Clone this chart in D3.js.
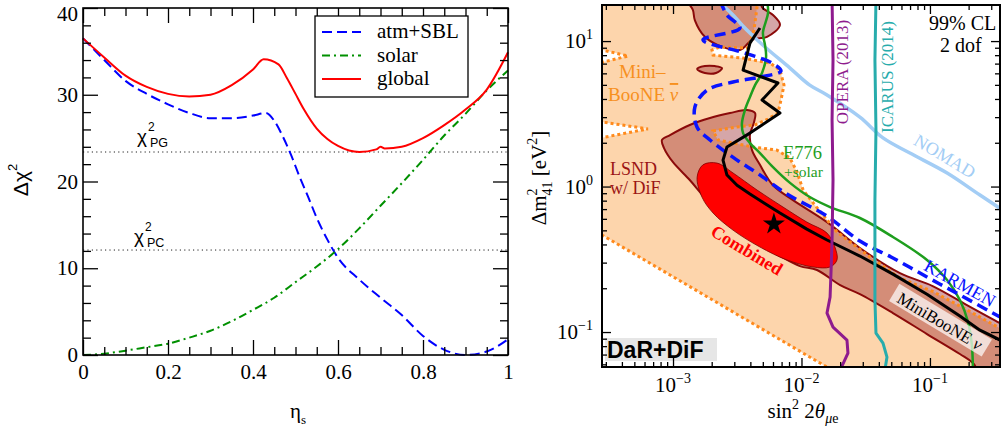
<!DOCTYPE html>
<html>
<head>
<meta charset="utf-8">
<script src="https://cdn.jsdelivr.net/npm/d3@7"></script>
<style>
  body { margin: 0; background: #fff; }
  svg { display: block; }
</style>
</head>
<body>
<script>
// ---------------- left panel: delta chi^2 vs eta_s ----------------
const atmSBL = [[0,36.5],[0.05,34.0],[0.1,31.6],[0.15,30.1],[0.2,28.9],[0.25,27.9],[0.3,27.3],[0.35,27.3],
  [0.4,27.6],[0.43,27.9],[0.45,27.0],[0.47,25.2],[0.49,23.0],[0.51,20.5],[0.53,18.2],[0.55,15.8],[0.575,13.3],
  [0.6,11.2],[0.65,8.7],[0.7,6.6],[0.75,4.6],[0.8,2.2],[0.85,0.6],[0.9,0.0],[0.95,0.4],[1.0,1.8]];
const solar = [[0,0],[0.05,0.15],[0.1,0.5],[0.15,0.9],[0.2,1.3],[0.25,2.0],[0.3,2.8],[0.35,3.9],[0.4,5.2],
  [0.45,6.6],[0.5,8.4],[0.55,10.2],[0.6,12.2],[0.65,14.6],[0.7,17.2],[0.75,19.8],[0.8,22.5],[0.85,25.3],
  [0.9,27.8],[0.95,30.5],[1.0,32.8]];
const globalFit = [[0,36.5],[0.05,34.3],[0.1,32.2],[0.15,30.9],[0.2,30.1],[0.25,29.8],[0.3,30.0],[0.35,31.1],
  [0.4,32.9],[0.425,34.1],[0.46,33.5],[0.48,31.9],[0.5,30.1],[0.52,28.3],[0.55,26.1],[0.575,24.9],[0.6,24.1],
  [0.65,23.4],[0.69,23.7],[0.7,24.0],[0.71,23.8],[0.75,24.0],[0.8,25.0],[0.85,26.5],[0.9,28.3],[0.95,30.6],[1.0,34.9]];
const chi2PG = 23.4;
const chi2PC = 12.1;
const legendNames = ['atm+SBL', 'solar', 'global'];
const etaTicks = [0, 0.2, 0.4, 0.6, 0.8, 1];
const chiTicks = [0, 10, 20, 30, 40];

// ---------------- right panel: sin^2 2theta_mue vs dm^2_41 ----------------
const mbNubarRegion = [[2.26e-4,19.1],[4.58e-3,19.1],[4.27e-3,11.9],[3.84e-3,8.96],[2.32e-3,9.10],[2.01e-3,8.67],
  [2.05e-3,8.01],[3.51e-3,7.64],[5.69e-3,7.06],[6.80e-3,6.32],[7.31e-3,4.98],[6.92e-3,3.93],[6.56e-3,3.20],
  [5.49e-3,2.91],[4.35e-3,2.65],[3.04e-3,2.56],[2.05e-3,2.41],[2.24e-3,2.09],[4.20e-3,1.87],[6.45e-3,1.78],
  [8.14e-3,1.57],[9.23e-3,1.26],[1.03e-2,0.946],[1.27e-2,0.746],[1.89e-2,0.487],[3.41e-2,0.328],[5.84e-2,0.235],
  [0.105,0.19],[0.194,0.142],[0.351,0.106],[0.42,0.098],[0.42,0.0468],[2.34e-2,0.0468],[2.26e-4,0.519],
  [2.26e-4,2.09],[6.38e-4,2.49],[2.26e-4,2.86],[2.26e-4,6.84],[4.47e-4,7.89],[2.26e-4,9.10]];
const lsndBand = [[8.20e-4,2.09],[9.48e-4,2.26],[1.35e-3,2.65],[1.94e-3,2.96],[2.78e-3,3.20],[3.77e-3,3.36],
  [4.35e-3,3.20],[4.27e-3,2.77],[3.97e-3,2.26],[4.12e-3,1.78],[4.75e-3,1.41],[6.00e-3,1.02],[8.59e-3,0.807],
  [1.58e-2,0.570],[2.85e-2,0.378],[5.84e-2,0.254],[0.105,0.207],[0.194,0.153],[0.351,0.115],[0.42,0.106],
  [0.42,0.0468],[0.268,0.0468],[0.216,0.0612],[0.171,0.0706],[9.48e-2,0.0969],[5.15e-2,0.135],[2.85e-2,0.182],
  [2.0e-2,0.210],[1.32e-2,0.267],[9.73e-3,0.284],[6.80e-3,0.333],[3.97e-3,0.443],[2.63e-3,0.598],
  [1.94e-3,0.758],[1.62e-3,0.916],[1.35e-3,1.11],[1.0e-3,1.47],[8.51e-4,1.84]];
const lsndIsland = [[1.31e-3,19.1],[1.43e-3,16.3],[1.48e-3,13.9],[1.77e-3,10.7],[2.24e-3,9.39],[3.32e-3,8.67],
  [4.12e-3,10.2],[5.39e-3,10.7],[6.80e-3,12.9],[6.00e-3,15.1],[4.93e-3,17.1],[4.75e-3,19.1]];
const lsndLeaf = [[1.54e-3,6.42],[1.77e-3,6.73],[2.12e-3,6.73],[2.41e-3,6.52],[2.16e-3,6.03],[1.77e-3,6.03]];
const combinedRegion = [[1.54e-3,1.16],[1.71e-3,1.41],[2.20e-3,1.45],[2.93e-3,1.24],[4.51e-3,0.946],
  [7.18e-3,0.723],[1.10e-2,0.570],[1.58e-2,0.479],[1.82e-2,0.384],[1.89e-2,0.313],[1.67e-2,0.280],
  [1.23e-2,0.280],[7.71e-3,0.313],[4.75e-3,0.384],[2.93e-3,0.502],[2.05e-3,0.658],[1.68e-3,0.847]];
const mbNuLine = [[4.75e-3,12.3],[3.97e-3,9.69],[3.51e-3,6.32],[6.56e-3,5.15],[4.93e-3,3.93],[6.80e-3,3.20],
  [3.97e-3,2.33],[2.63e-3,1.87],[2.45e-3,1.52],[2.63e-3,1.20],[3.15e-3,1.02],[3.97e-3,0.888],[6.80e-3,0.658],
  [1.10e-2,0.510],[1.58e-2,0.429],[2.85e-2,0.333],[5.15e-2,0.250],[9.48e-2,0.182],[0.171,0.129],[0.245,0.103],
  [0.351,0.0881],[0.42,0.0813]];
const karmenLine = [[2.32e-3,19.1],[2.63e-3,15.1],[3.32e-3,12.3],[1.71e-3,10.2],[3.63e-3,8.27],[5.89e-3,7.06],
  [6.92e-3,6.22],[4.75e-3,5.66],[2.93e-3,5.23],[1.84e-3,4.60],[1.48e-3,3.52],[1.54e-3,2.56],[1.94e-3,2.09],
  [3.15e-3,1.52],[4.51e-3,1.24],[7.71e-3,0.888],[1.58e-2,0.627],[2.85e-2,0.422],[5.15e-2,0.323],[9.48e-2,0.239],
  [0.171,0.180],[0.351,0.127],[0.42,0.117]];
const e776Line = [[5.39e-3,19.1],[5.49e-3,15.6],[5.01e-3,11.4],[5.20e-3,9.39],[5.30e-3,7.76],[4.93e-3,6.03],
  [4.35e-3,4.98],[3.97e-3,4.12],[3.63e-3,3.36],[3.44e-3,2.73],[3.51e-3,2.33],[3.97e-3,1.99],[4.75e-3,1.70],
  [6.00e-3,1.36],[8.14e-3,1.06],[1.16e-2,0.847],[1.67e-2,0.723],[2.85e-2,0.608],[5.15e-2,0.450],[9.48e-2,0.313],
  [0.136,0.228],[0.171,0.166],[0.198,0.117],[0.212,0.0813],[0.216,0.0548]];
const nomadLine = [[2.12e-3,19.1],[2.41e-3,17.7],[2.93e-3,15.1],[3.44e-3,12.9],[4.12e-3,11.0],[5.20e-3,9.10],
  [8.14e-3,6.52],[1.16e-2,4.98],[1.58e-2,4.26],[2.85e-2,3.00],[4.31e-2,2.16],[6.98e-2,1.70],[0.136,1.24],
  [0.245,0.874],[0.42,0.637]];
const operaLine = [[1.73e-2,19.1],[1.76e-2,7.40],[1.73e-2,2.86],[1.76e-2,1.11],[1.73e-2,0.429],[1.70e-2,0.267],
  [1.67e-2,0.174],[1.58e-2,0.135],[1.76e-2,0.108],[2.26e-2,0.0881],[2.30e-2,0.0717],[2.0e-2,0.0548]];
const icarusLine = [[3.80e-2,19.1],[3.73e-2,7.40],[3.80e-2,2.45],[3.73e-2,0.807],[3.73e-2,0.166],[3.80e-2,0.0984],
  [4.31e-2,0.0840],[4.63e-2,0.0673],[4.46e-2,0.0548]];
const bestFit = [6.1e-3, 0.552];
const sinTicks = [1e-3, 1e-2, 1e-1];
const dmTicks = [0.1, 1, 10];

const serif = '"Liberation Serif", "DejaVu Serif", serif';
const sans = '"Liberation Sans", Arial, sans-serif';

const svg = d3.select('body').append('svg')
  .attr('width', 1001)
  .attr('height', 432)
  .attr('font-family', serif);

// ================= left panel =================
const lp = { left: 83, right: 508, top: 8, bottom: 355 };
const xL = d3.scaleLinear().domain([0, 1]).range([lp.left, lp.right]);
const yL = d3.scaleLinear().domain([0, 40]).range([lp.bottom, lp.top]);
const gL = svg.append('g');

[chi2PG, chi2PC].forEach(v => {
  gL.append('line')
    .attr('x1', xL(0)).attr('x2', xL(1))
    .attr('y1', yL(v)).attr('y2', yL(v))
    .attr('stroke', '#222').attr('stroke-width', 1)
    .attr('stroke-dasharray', '1.2,3.2');
});

const lineL = d3.line().x(d => xL(d[0])).y(d => yL(d[1])).curve(d3.curveMonotoneX);
const leftSeries = [
  { data: atmSBL, color: '#0000ff', dash: '10,5' },
  { data: solar, color: '#009000', dash: '8,4,2,4' },
  { data: globalFit, color: '#ff0000', dash: null }
];
leftSeries.forEach(s => {
  gL.append('path')
    .datum(s.data)
    .attr('d', lineL)
    .attr('fill', 'none')
    .attr('stroke', s.color)
    .attr('stroke-width', 2)
    .attr('stroke-dasharray', s.dash);
});

// ticks (inward, mirrored)
const minorEta = d3.range(0.05, 1, 0.05).filter(v => Math.abs(v / 0.2 - Math.round(v / 0.2)) > 1e-6);
const minorChi = d3.range(2, 40, 2).filter(v => v % 10 !== 0);
function tickSet(g, axis, vals, size, tr) {
  g.append('g')
    .attr('transform', tr)
    .call(axis.tickValues(vals).tickSize(size).tickFormat(''))
    .call(a => a.select('.domain').remove())
    .call(a => a.selectAll('line').attr('stroke', '#000').attr('stroke-width', 1.3));
}
tickSet(gL, d3.axisBottom(xL), etaTicks, -15, `translate(0,${lp.bottom})`);
tickSet(gL, d3.axisBottom(xL), minorEta, -8, `translate(0,${lp.bottom})`);
tickSet(gL, d3.axisTop(xL), etaTicks, -15, `translate(0,${lp.top})`);
tickSet(gL, d3.axisTop(xL), minorEta, -8, `translate(0,${lp.top})`);
tickSet(gL, d3.axisLeft(yL), chiTicks, -15, `translate(${lp.left},0)`);
tickSet(gL, d3.axisLeft(yL), minorChi, -8, `translate(${lp.left},0)`);
tickSet(gL, d3.axisRight(yL), chiTicks, -15, `translate(${lp.right},0)`);
tickSet(gL, d3.axisRight(yL), minorChi, -8, `translate(${lp.right},0)`);

gL.append('g')
  .attr('transform', `translate(0,${lp.bottom})`)
  .call(d3.axisBottom(xL).tickValues(etaTicks).tickSize(0).tickPadding(9).tickFormat(d3.format('~g')))
  .call(a => a.select('.domain').remove())
  .call(a => a.selectAll('text').attr('font-size', 21).attr('font-family', serif).attr('fill', '#000'));
gL.append('g')
  .attr('transform', `translate(${lp.left},0)`)
  .call(d3.axisLeft(yL).tickValues(chiTicks).tickSize(0).tickPadding(5))
  .call(a => a.select('.domain').remove())
  .call(a => a.selectAll('text').attr('font-size', 21).attr('font-family', serif).attr('fill', '#000')
    .attr('dy', d => d === 40 ? '0.6em' : '0.32em'));

gL.append('rect')
  .attr('x', lp.left).attr('y', lp.top)
  .attr('width', lp.right - lp.left).attr('height', lp.bottom - lp.top)
  .attr('fill', 'none').attr('stroke', '#000').attr('stroke-width', 1.6);

// legend
const lg = gL.append('g');
lg.append('rect').attr('x', 315).attr('y', 16).attr('width', 153).attr('height', 81)
  .attr('fill', '#fff').attr('stroke', '#000').attr('stroke-width', 1.3);
legendNames.forEach((name, i) => {
  const y = 32 + i * 23.5;
  lg.append('line').attr('x1', 322).attr('x2', 361).attr('y1', y).attr('y2', y)
    .attr('stroke', leftSeries[i].color).attr('stroke-width', 2)
    .attr('stroke-dasharray', leftSeries[i].dash);
  lg.append('text').attr('x', 377).attr('y', y + 6).attr('font-size', 21).text(name);
});

// chi^2 labels
function chiLabel(x, y, sub) {
  const g = gL.append('g').attr('font-family', sans);
  g.append('text').attr('x', x).attr('y', y).attr('font-size', 19).text('χ');
  g.append('text').attr('x', x + 11).attr('y', y - 12).attr('font-size', 12).text('2');
  g.append('text').attr('x', x + 13).attr('y', y + 4).attr('font-size', 12.5).text(sub);
}
chiLabel(137, 143, 'PG');
chiLabel(134, 243, 'PC');

// axis titles
const yTitleL = gL.append('text')
  .attr('transform', 'translate(28,180) rotate(-90)')
  .attr('text-anchor', 'middle')
  .attr('font-family', sans)
  .attr('font-size', 21);
yTitleL.append('tspan').text('Δχ');
yTitleL.append('tspan').attr('font-size', 13).attr('dy', -11).text('2');

const xTitleL = gL.append('text').attr('x', 290).attr('y', 418).attr('font-size', 21);
xTitleL.append('tspan').text('η');
xTitleL.append('tspan').attr('font-size', 13).attr('dy', 6).text('s');

// ================= right panel =================
const rp = { left: 602, right: 1000, top: 5, bottom: 367 };
const xR = d3.scaleLog().domain([2.8e-4, 0.351]).range([rp.left, rp.right]);
const yR = d3.scaleLog().domain([0.0575, 17.7]).range([rp.bottom, rp.top]);

svg.append('defs').append('clipPath').attr('id', 'clipR')
  .append('rect')
  .attr('x', rp.left).attr('y', rp.top)
  .attr('width', rp.right - rp.left).attr('height', rp.bottom - rp.top);

const gR = svg.append('g').attr('clip-path', 'url(#clipR)');
const pathR = curve => d3.line().x(d => xR(d[0])).y(d => yR(d[1])).curve(curve);

// MiniBooNE antineutrino region (fill)
gR.append('path')
  .attr('d', pathR(d3.curveLinearClosed)(mbNubarRegion))
  .attr('fill', '#fdd5ac');

// LSND regions
[lsndBand, lsndIsland, lsndLeaf].forEach(reg => {
  gR.append('path')
    .attr('d', pathR(d3.curveCatmullRomClosed.alpha(0.5))(reg))
    .attr('fill', '#9c2a30').attr('fill-opacity', 0.42)
    .attr('stroke', '#8b0a0a').attr('stroke-width', 2);
});

// MiniBooNE antineutrino boundary
gR.append('path')
  .attr('d', pathR(d3.curveLinearClosed)(mbNubarRegion))
  .attr('fill', 'none')
  .attr('stroke', '#ff8a1c').attr('stroke-width', 3)
  .attr('stroke-dasharray', '3,3');

// combined region
gR.append('path')
  .attr('d', pathR(d3.curveCatmullRomClosed.alpha(0.5))(combinedRegion))
  .attr('fill', '#ff0000')
  .attr('stroke', '#800000').attr('stroke-width', 0.8);

const curves = [
  { data: nomadLine, color: '#a3cdf5', w: 3.5, dash: null, curve: d3.curveCatmullRom.alpha(0.5) },
  { data: e776Line, color: '#1e9e1e', w: 2.5, dash: null, curve: d3.curveCatmullRom.alpha(0.5) },
  { data: karmenLine, color: '#0a14ff', w: 3.5, dash: '11,6', curve: d3.curveCatmullRom.alpha(0.5) },
  { data: mbNuLine, color: '#000', w: 3, dash: null, curve: d3.curveLinear },
  { data: operaLine, color: '#8e1b8e', w: 3, dash: null, curve: d3.curveLinear },
  { data: icarusLine, color: '#27acac', w: 3, dash: null, curve: d3.curveLinear }
];
curves.forEach(c => {
  gR.append('path')
    .attr('d', pathR(c.curve)(c.data))
    .attr('fill', 'none')
    .attr('stroke', c.color)
    .attr('stroke-width', c.w)
    .attr('stroke-linejoin', 'round')
    .attr('stroke-dasharray', c.dash);
});

gR.append('path')
  .attr('d', d3.symbol(d3.symbolStar, 150)())
  .attr('transform', `translate(${xR(bestFit[0])},${yR(bestFit[1])})`)
  .attr('fill', '#000');

// in-plot labels
const gT = svg.append('g');
gT.append('text').attr('x', 619).attr('y', 78).attr('font-size', 19).attr('fill', '#f7901e').text('Mini–');
const bn = gT.append('text').attr('x', 608).attr('y', 101).attr('font-size', 19).attr('fill', '#f7901e');
bn.append('tspan').text('BooNE ');
bn.append('tspan').attr('font-style', 'italic').attr('text-decoration', 'overline').text('ν');
gT.append('text').attr('x', 610).attr('y', 175).attr('font-size', 18).attr('fill', '#9b1414').text('LSND');
gT.append('text').attr('x', 610).attr('y', 194).attr('font-size', 18).attr('fill', '#9b1414').text('w/ DiF');
gT.append('text').attr('x', 783).attr('y', 159).attr('font-size', 18.5).attr('fill', '#1e9e1e').text('E776');
gT.append('text').attr('x', 784).attr('y', 177).attr('font-size', 15.5).attr('fill', '#1e9e1e').text('+solar');
gT.append('text').attr('transform', 'translate(848,72) rotate(-90)').attr('text-anchor', 'middle')
  .attr('font-size', 17).attr('fill', '#8e1b8e').text('OPERA (2013)');
gT.append('text').attr('transform', 'translate(893,77) rotate(-90)').attr('text-anchor', 'middle')
  .attr('font-size', 17).attr('fill', '#27acac').text('ICARUS (2014)');
gT.append('text').attr('transform', 'translate(945,156) rotate(31)').attr('text-anchor', 'middle')
  .attr('dy', '0.35em').attr('font-size', 18).attr('fill', '#a3cdf5').text('NOMAD');
gT.append('text').attr('transform', 'translate(960,283) rotate(29)').attr('text-anchor', 'middle')
  .attr('dy', '0.35em').attr('font-size', 18).attr('fill', '#0a14ff').text('KARMEN');
gT.append('text').attr('transform', 'translate(747,250) rotate(31)').attr('text-anchor', 'middle')
  .attr('dy', '0.35em').attr('font-size', 18).attr('font-weight', 'bold').attr('fill', '#ff0000').text('Combined');
const mbl = gT.append('g').attr('transform', 'translate(940,321) rotate(31)');
mbl.append('rect').attr('x', -54).attr('y', -11).attr('width', 108).attr('height', 20)
  .attr('fill', '#fff').attr('fill-opacity', 0.7);
const mbt = mbl.append('text').attr('text-anchor', 'middle').attr('dy', '0.35em').attr('font-size', 17);
mbt.append('tspan').text('MiniBooNE ');
mbt.append('tspan').attr('font-style', 'italic').text('ν');

gT.append('text').attr('x', 929).attr('y', 30).attr('font-size', 20).text('99% CL');
gT.append('text').attr('x', 940).attr('y', 52).attr('font-size', 20).text('2 dof');

gT.append('rect').attr('x', 605).attr('y', 338).attr('width', 112).attr('height', 23).attr('fill', '#e6e6e6');
gT.append('text').attr('x', 607).attr('y', 358).attr('font-family', sans).attr('font-weight', 'bold')
  .attr('font-size', 23).text('DaR+DiF');

// right axes
const minorSin = [];
[1e-4, 1e-3, 1e-2, 1e-1].forEach(d => d3.range(2, 10).forEach(k => {
  const v = k * d;
  if (v > xR.domain()[0] && v < xR.domain()[1]) minorSin.push(v);
}));
const minorDm = [];
[1e-2, 1e-1, 1, 10].forEach(d => d3.range(2, 10).forEach(k => {
  const v = k * d;
  if (v > yR.domain()[0] && v < yR.domain()[1]) minorDm.push(v);
}));
const gA = svg.append('g');
tickSet(gA, d3.axisBottom(xR), sinTicks, -9, `translate(0,${rp.bottom})`);
tickSet(gA, d3.axisBottom(xR), minorSin, -5, `translate(0,${rp.bottom})`);
tickSet(gA, d3.axisTop(xR), sinTicks, -9, `translate(0,${rp.top})`);
tickSet(gA, d3.axisTop(xR), minorSin, -5, `translate(0,${rp.top})`);
tickSet(gA, d3.axisLeft(yR), dmTicks, -9, `translate(${rp.left},0)`);
tickSet(gA, d3.axisLeft(yR), minorDm, -5, `translate(${rp.left},0)`);
tickSet(gA, d3.axisRight(yR), dmTicks, -9, `translate(${rp.right},0)`);
tickSet(gA, d3.axisRight(yR), minorDm, -5, `translate(${rp.right},0)`);

gA.append('rect')
  .attr('x', rp.left).attr('y', rp.top)
  .attr('width', rp.right - rp.left).attr('height', rp.bottom - rp.top)
  .attr('fill', 'none').attr('stroke', '#000').attr('stroke-width', 2);

const expLabel = v => {
  const e = Math.round(Math.log10(v));
  return e < 0 ? '−' + Math.abs(e) : String(e);
};
sinTicks.forEach(v => {
  const t = gA.append('text').attr('x', xR(v)).attr('y', 392).attr('text-anchor', 'middle').attr('font-size', 21);
  t.append('tspan').text('10');
  t.append('tspan').attr('font-size', 14).attr('dy', -9).text(expLabel(v));
});
dmTicks.forEach(v => {
  const t = gA.append('text').attr('x', 593).attr('y', yR(v) + 7).attr('text-anchor', 'end').attr('font-size', 21);
  t.append('tspan').text('10');
  t.append('tspan').attr('font-size', 14).attr('dy', -9).text(expLabel(v));
});

const yTitleR = gA.append('text')
  .attr('transform', 'translate(546,178) rotate(-90)')
  .attr('text-anchor', 'middle')
  .attr('font-size', 21);
yTitleR.append('tspan').text('Δm');
yTitleR.append('tspan').attr('font-size', 14).attr('dy', -9).text('2');
yTitleR.append('tspan').attr('font-size', 14).attr('dx', -7).attr('dy', 15).text('41');
yTitleR.append('tspan').attr('dy', -6).text(' [eV');
yTitleR.append('tspan').attr('font-size', 14).attr('dy', -9).text('2');
yTitleR.append('tspan').attr('dy', 9).text(']');

const xTitleR = gA.append('text').attr('x', 803).attr('y', 418).attr('text-anchor', 'middle').attr('font-size', 21);
xTitleR.append('tspan').text('sin');
xTitleR.append('tspan').attr('font-size', 14).attr('dy', -9).text('2');
xTitleR.append('tspan').attr('dy', 9).text(' 2');
xTitleR.append('tspan').attr('font-style', 'italic').text('θ');
xTitleR.append('tspan').attr('font-size', 14).attr('font-style', 'italic').attr('dy', 5).text('μ');
xTitleR.append('tspan').attr('font-size', 14).text('e');
</script>
</body>
</html>
